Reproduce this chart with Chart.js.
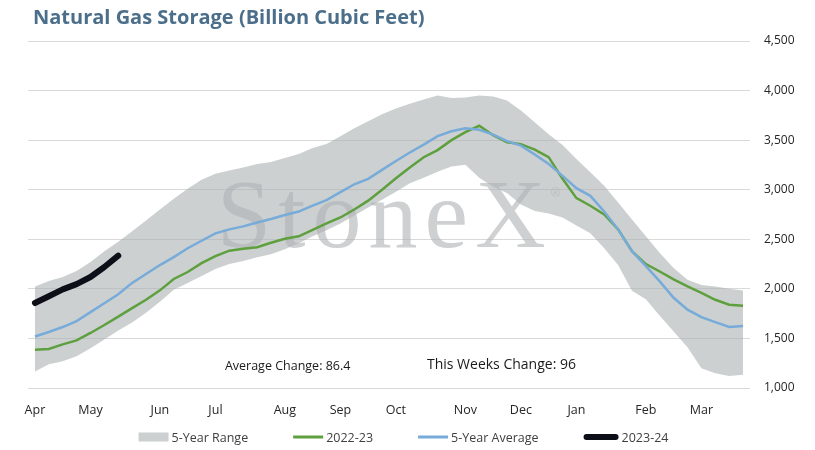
<!DOCTYPE html>
<html>
<head>
<meta charset="utf-8">
<script src="https://cdn.jsdelivr.net/npm/chart.js@4/dist/chart.umd.min.js"></script>
<style>
  html, body { margin: 0; padding: 0; background: #fff; }
  #wrap { width: 815px; height: 450px; position: relative; }
</style>
</head>
<body>
<div id="wrap"><canvas id="storageChart"></canvas></div>
<script>
// weekly points, first week of April through end of March
var weekLabels = [
    'Apr', '', '', '', 'May', '', '', '', '', 'Jun', '', '', '', 'Jul', '', '', '', '',
    'Aug', '', '', '', 'Sep', '', '', '', 'Oct', '', '', '', '', 'Nov', '', '', '',
    'Dec', '', '', '', 'Jan', '', '', '', '', 'Feb', '', '', '', 'Mar', '', '', ''
];

var rangeMin = [
    1167, 1240, 1270, 1320, 1400, 1490, 1580, 1660, 1760, 1870, 1990, 2060, 2130,
    2200, 2250, 2280, 2320, 2350, 2400, 2460, 2530, 2590, 2660, 2740, 2820, 2900,
    2980, 3066, 3120, 3180, 3234, 3251, 3120, 3030, 2966, 2850, 2785, 2760, 2720,
    2640, 2562, 2410, 2240, 1980, 1895, 1730, 1570, 1410, 1200, 1150, 1120, 1134
];

var rangeMax = [
    2024, 2080, 2120, 2180, 2270, 2380, 2475, 2580, 2690, 2800, 2910, 3010, 3100,
    3160, 3195, 3225, 3260, 3280, 3320, 3360, 3420, 3460, 3540, 3620, 3690, 3760,
    3820, 3866, 3910, 3950, 3925, 3930, 3950, 3940, 3900, 3800, 3680, 3560, 3450,
    3310, 3175, 3040, 2870, 2700, 2530, 2361, 2210, 2092, 2040, 2025, 2000, 1984
];

var avg5yr = [
    1520, 1565, 1615, 1675, 1765, 1855, 1945, 2060, 2150, 2240, 2320, 2410, 2485,
    2560, 2600, 2630, 2670, 2705, 2745, 2780, 2840, 2895, 2975, 3055, 3110, 3200,
    3290, 3375, 3455, 3540, 3590, 3620, 3605, 3555, 3490, 3445, 3355, 3260, 3140,
    3016, 2938, 2780, 2600, 2380, 2230, 2075, 1910, 1790, 1715, 1665, 1615, 1625
];

var season2223 = [
    1386, 1393, 1440, 1480, 1555, 1635, 1720, 1805, 1890, 1985, 2100, 2170, 2260,
    2330, 2385, 2405, 2420, 2465, 2505, 2530, 2595, 2660, 2720, 2800, 2890, 3000,
    3115, 3225, 3328, 3400, 3500, 3580, 3645, 3550, 3478, 3460, 3405, 3328, 3110,
    2915, 2838, 2750, 2600, 2380, 2250, 2175, 2095, 2025, 1960, 1890, 1840, 1830
];

var season2324 = [1857, 1925, 1995, 2048, 2120, 2220, 2335];

var yTicks = [1000, 1500, 2000, 2500, 3000, 3500, 4000, 4500];

var avgChange = 86.4;
var weekChange = 96;

var FONT = '"Open Sans", Lato, sans-serif';
var bandColor = 'rgba(170,177,177,0.6)';
var bandSwatch = '#ccd0d0';

// title, watermark, notes and legend are painted by hand
var extrasPlugin = {
    id: 'extras',
    afterDatasetDraw: function (chart, args) {
        if (args.index !== 0) return;
        var ctx = chart.ctx;
        var x = chart.scales.x, y = chart.scales.y;
        ctx.save();
        ctx.font = '98px "Liberation Serif", "DejaVu Serif", serif';
        ctx.fillStyle = 'rgba(176,179,182,0.62)';
        ctx.textBaseline = 'alphabetic';
        ctx.textAlign = 'left';
        if ('letterSpacing' in ctx) ctx.letterSpacing = '7px';
        var wx = x.getPixelForValue(13.1);
        var wy = y.getPixelForValue(2420);
        ctx.fillText('StoneX', wx, wy);
        var w = ctx.measureText('StoneX').width;
        if ('letterSpacing' in ctx) ctx.letterSpacing = '0px';
        ctx.font = '13px "Liberation Sans", sans-serif';
        ctx.fillText('\u00AE', wx + w - 2, wy - 50);
        ctx.restore();
    },
    afterDraw: function (chart) {
        var ctx = chart.ctx;
        var x = chart.scales.x, y = chart.scales.y;
        ctx.save();

        // title
        ctx.font = 'bold 20px ' + FONT;
        ctx.fillStyle = '#4b6e8a';
        ctx.textBaseline = 'middle';
        ctx.textAlign = 'left';
        ctx.fillText('Natural Gas Storage (Billion Cubic Feet)', 33, 18);

        // weekly change notes
        ctx.fillStyle = '#1a1a1a';
        ctx.textAlign = 'center';
        ctx.font = '12.5px ' + FONT;
        ctx.fillText('Average Change: ' + avgChange, x.getPixelForValue(18.2), y.getPixelForValue(1215));
        ctx.font = '14px ' + FONT;
        ctx.fillText('This Weeks Change: ' + weekChange, x.getPixelForValue(33.6), y.getPixelForValue(1230));

        // legend
        var ds = chart.data.datasets;
        var items = [
            { text: '5-Year Range', box: true, color: bandSwatch, w: 30 },
            { text: ds[2].label, color: ds[2].borderColor, lw: 3, w: 30 },
            { text: ds[3].label, color: ds[3].borderColor, lw: 3, w: 30 },
            { text: ds[4].label, color: ds[4].borderColor, lw: 6, w: 35 }
        ];
        ctx.font = '12.5px ' + FONT;
        var gap = 3, spacing = 45, total = 0;
        items.forEach(function (it, i) {
            it.tw = ctx.measureText(it.text).width;
            total += it.w + gap + it.tw + (i ? spacing : 0);
        });
        var cx = chart.width / 2 - total / 2 - 4;
        var cy = 437;
        ctx.textAlign = 'left';
        items.forEach(function (it) {
            if (it.box) {
                ctx.fillStyle = it.color;
                ctx.fillRect(cx, cy - 4.5, it.w, 9);
            } else {
                ctx.strokeStyle = it.color;
                ctx.lineWidth = it.lw;
                ctx.lineCap = it.lw > 4 ? 'round' : 'butt';
                ctx.beginPath();
                ctx.moveTo(cx + (it.lw > 4 ? 3 : 0), cy);
                ctx.lineTo(cx + it.w - (it.lw > 4 ? 3 : 0), cy);
                ctx.stroke();
            }
            ctx.fillStyle = '#404040';
            ctx.fillText(it.text, cx + it.w + gap, cy + 1);
            cx += it.w + gap + it.tw + spacing;
        });
        ctx.restore();
    }
};

var ctx = document.getElementById('storageChart').getContext('2d');
var storageChart = new Chart(ctx, {
    type: 'line',
    data: {
        labels: weekLabels,
        datasets: [{
            label: 'Range Low',
            data: rangeMin,
            borderWidth: 0,
            pointRadius: 0,
            fill: false,
            order: 10
        }, {
            label: '5-Year Range',
            data: rangeMax,
            borderWidth: 0,
            pointRadius: 0,
            backgroundColor: bandColor,
            fill: '-1',
            order: 10
        }, {
            label: '2022-23',
            data: season2223,
            borderColor: '#5e9f3e',
            borderWidth: 2.5,
            pointRadius: 0,
            fill: false,
            order: 3
        }, {
            label: '5-Year Average',
            data: avg5yr,
            borderColor: '#77abd9',
            borderWidth: 2.5,
            pointRadius: 0,
            fill: false,
            order: 2
        }, {
            label: '2023-24',
            data: season2324,
            borderColor: '#0c0e18',
            borderWidth: 6,
            borderCapStyle: 'round',
            borderJoinStyle: 'round',
            pointRadius: 0,
            fill: false,
            order: 1
        }]
    },
    options: {
        responsive: true,
        maintainAspectRatio: false,
        animation: false,
        devicePixelRatio: 1,
        elements: { line: { tension: 0 } },
        layout: {
            padding: { top: 41, left: 28, right: 0, bottom: 22 }
        },
        plugins: {
            legend: { display: false },
            title: { display: false },
            tooltip: { enabled: false }
        },
        scales: {
            x: {
                type: 'category',
                offset: true,
                afterFit: function (scale) { scale.height = 40; },
                grid: { display: false },
                border: { display: false },
                ticks: {
                    autoSkip: false,
                    maxRotation: 0,
                    padding: 7,
                    color: '#262626',
                    font: { family: FONT, size: 12.5 }
                }
            },
            y: {
                position: 'right',
                min: 1000,
                max: 4500,
                afterBuildTicks: function (scale) {
                    scale.ticks = yTicks.map(function (v) { return { value: v }; });
                },
                afterFit: function (scale) { scale.width = 65; },
                grid: { color: '#d9d9d9', lineWidth: 1, drawTicks: false },
                border: { display: false },
                ticks: {
                    padding: 14,
                    color: '#262626',
                    font: { family: FONT, size: 12 },
                    callback: function (v) { return v.toLocaleString('en-US'); }
                }
            }
        }
    },
    plugins: [extrasPlugin]
});
</script>
</body>
</html>
